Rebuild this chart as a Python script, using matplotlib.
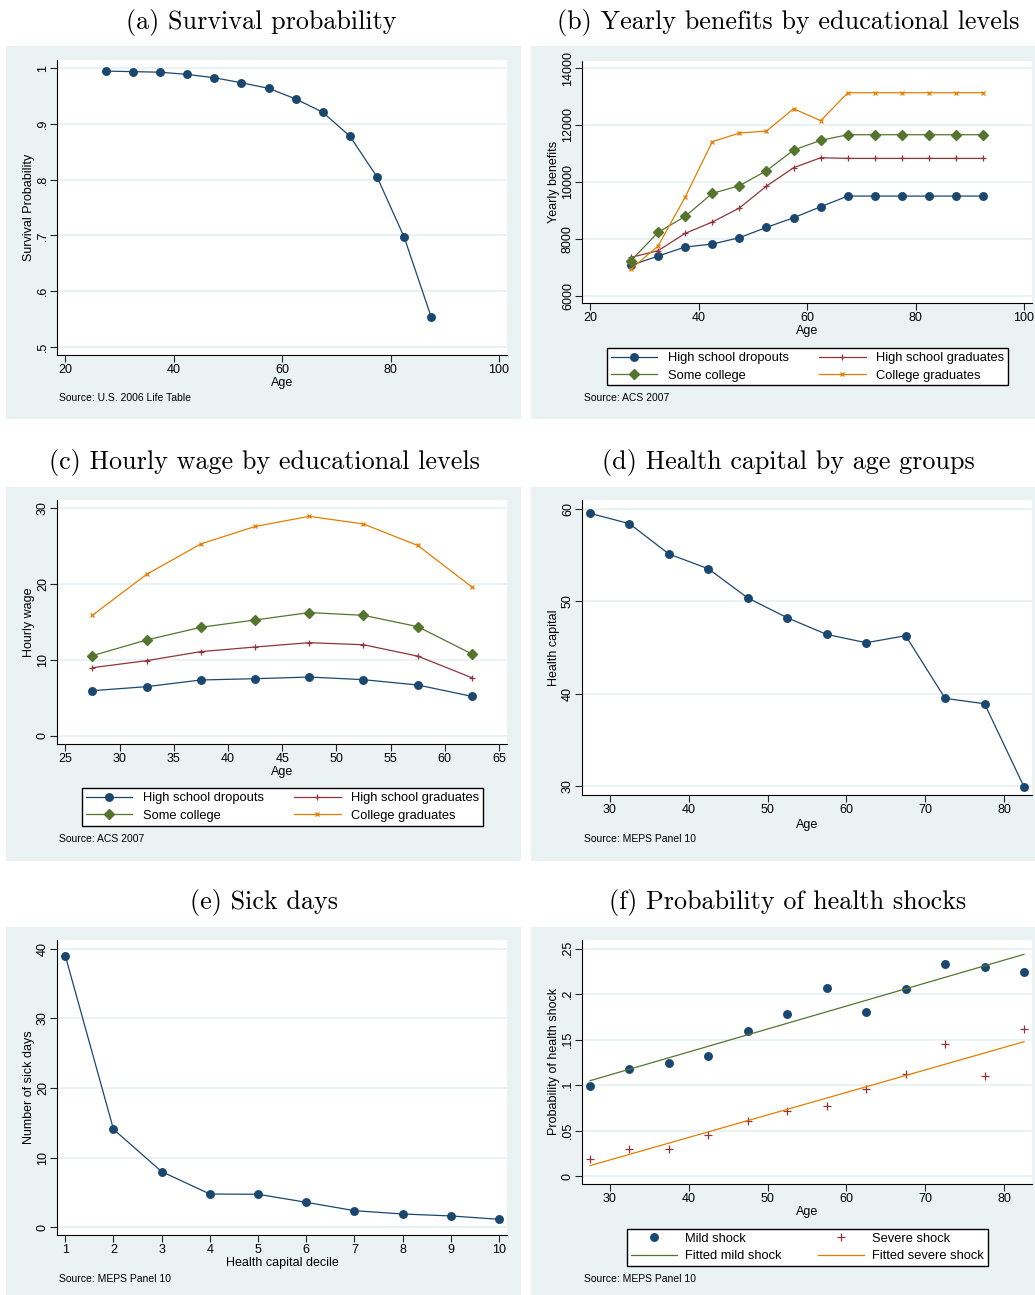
import matplotlib
matplotlib.use("Agg")
import matplotlib.pyplot as plt
from matplotlib.patches import Rectangle

plt.rcParams['font.family'] = ['Liberation Sans', 'DejaVu Sans']

# ---------------- data ----------------
ages_a = [27.5, 32.5, 37.5, 42.5, 47.5, 52.5, 57.5, 62.5, 67.5, 72.5, 77.5, 82.5, 87.5]
survival = [0.995, 0.994, 0.993, 0.989, 0.983, 0.974, 0.964, 0.945, 0.921, 0.878, 0.805, 0.697, 0.553]

ages_b = [27.5, 32.5, 37.5, 42.5, 47.5, 52.5, 57.5, 62.5, 67.5, 72.5, 77.5, 82.5, 87.5, 92.5]
ben_dropouts = [7066, 7393, 7710, 7815, 8037, 8400, 8740, 9127, 9500, 9500, 9500, 9500, 9500, 9500]
ben_hsgrad = [7347, 7580, 8190, 8588, 9080, 9852, 10496, 10848, 10824, 10824, 10824, 10824, 10824, 10824]
ben_somecol = [7230, 8225, 8787, 9595, 9864, 10391, 11117, 11457, 11656, 11656, 11656, 11656, 11656, 11656]
ben_colgrad = [6937, 7745, 9466, 11410, 11714, 11785, 12570, 12148, 13131, 13131, 13131, 13131, 13131, 13131]

ages_c = [27.5, 32.5, 37.5, 42.5, 47.5, 52.5, 57.5, 62.5]
wage_dropouts = [5.94, 6.47, 7.35, 7.52, 7.74, 7.39, 6.69, 5.19]
wage_hsgrad = [8.97, 9.90, 11.09, 11.70, 12.27, 12.00, 10.50, 7.65]
wage_somecol = [10.56, 12.63, 14.30, 15.27, 16.24, 15.88, 14.39, 10.78]
wage_colgrad = [15.88, 21.29, 25.30, 27.60, 28.94, 27.93, 25.10, 19.62]

ages_d = [27.5, 32.5, 37.5, 42.5, 47.5, 52.5, 57.5, 62.5, 67.5, 72.5, 77.5, 82.5]
health_capital = [59.5, 58.38, 55.1, 53.5, 50.34, 48.2, 46.4, 45.5, 46.26, 39.48, 38.9, 29.9]

deciles = [1, 2, 3, 4, 5, 6, 7, 8, 9, 10]
sick_days = [39.0, 14.07, 7.99, 4.78, 4.74, 3.59, 2.39, 1.91, 1.63, 1.15]

ages_f = [27.5, 32.5, 37.5, 42.5, 47.5, 52.5, 57.5, 62.5, 67.5, 72.5, 77.5, 82.5]
mild_shock = [0.0986, 0.118, 0.1239, 0.132, 0.1594, 0.1777, 0.207, 0.1803, 0.2053, 0.2335, 0.2298, 0.224]
severe_shock = [0.0183, 0.0293, 0.030, 0.0451, 0.0601, 0.0715, 0.0773, 0.0953, 0.1122, 0.1448, 0.1096, 0.1613]
fit_ages = [27.5, 82.5]
fit_mild = [0.1048, 0.2438]
fit_severe = [0.0114, 0.1477]

titles = ["(a) Survival probability", "(b) Yearly benefits by educational levels",
          "(c) Hourly wage by educational levels", "(d) Health capital by age groups",
          "(e) Sick days", "(f) Probability of health shocks"]
edu_labels = ["High school dropouts", "High school graduates", "Some college", "College graduates"]

# ---------------- style ----------------
NAVY = '#1A476F'
MAROON = '#90353B'
GREEN = '#55752F'
ORANGE = '#E37E00'
BG = '#EAF2F3'

W, H = 1035, 1295
fig = plt.figure(figsize=(W / 100, H / 100), dpi=100)
fig.patch.set_facecolor('white')


def gray(x0, y0, x1, y1):
    fig.patches.append(Rectangle((x0 / W, 1 - y1 / H), (x1 - x0) / W, (y1 - y0) / H,
                                 transform=fig.transFigure, facecolor=BG,
                                 edgecolor='none', zorder=-5))


def make_ax(L, T, R, B, xref, yref):
    ax = fig.add_axes([L / W, 1 - B / H, (R - L) / W, (B - T) / H])
    (v1, p1), (v2, p2) = xref
    s = (p2 - p1) / (v2 - v1)
    ax.set_xlim(v1 - (p1 - L) / s, v1 + (R - p1) / s)
    (w1, q1), (w2, q2) = yref
    f = lambda p: w1 + (q1 - p) * (w2 - w1) / (q1 - q2)
    ax.set_ylim(f(B), f(T))
    ax.set_facecolor('white')
    for sp in ['top', 'right']:
        ax.spines[sp].set_visible(False)
    for sp in ['left', 'bottom']:
        ax.spines[sp].set_color('black')
        ax.spines[sp].set_linewidth(0.8)
    ax.tick_params(direction='out', length=5, width=0.8, color='#222222',
                   labelsize=9, labelcolor='black')
    ax.tick_params(axis='x', pad=1.5)
    ax.tick_params(axis='y', pad=1.0)
    ax.grid(axis='y', color=BG, linewidth=1.4)
    ax.set_axisbelow(True)
    return ax


def yticks(ax, vals, labels):
    ax.set_yticks(vals)
    ax.set_yticklabels(labels, rotation=90, va='center', ha='right')


def title(x, y, s):
    fig.text(x / W, 1 - y / H, s, family='cmr10', fontsize=18.8,
             ha='center', va='center')


def source(x, y, s):
    fig.text(x / W, 1 - y / H, s, fontsize=7.5, ha='left', va='center')


def legend(handles, labels, x0, y0, x1, y1, tpad):
    leg = fig.legend(handles, labels, ncol=2, loc='center', mode='expand',
                     bbox_to_anchor=(x0 / W, 1 - y1 / H, (x1 - x0) / W, (y1 - y0) / H),
                     fontsize=9.3, frameon=True, fancybox=False, edgecolor='black',
                     facecolor='white', framealpha=1,
                     borderpad=0.3, labelspacing=0.42, handlelength=3.6,
                     handletextpad=tpad, columnspacing=1.0, borderaxespad=0)
    leg.get_frame().set_linewidth(1.0)
    return leg


LW = 0.9
YLP = 1.5
order = [0, 2, 1, 3]

# gray panels
gray(6, 46, 521, 419)
gray(531, 46, 1035, 419)
gray(6, 487, 521, 861)
gray(531, 487, 1035, 861)
gray(6, 927, 521, 1295)
gray(531, 927, 1035, 1295)

# ---------------- (a) ----------------
ax = make_ax(57.3, 60, 507.3, 355, [(20, 65.3), (100, 499)], [(1, 68.3), (0.5, 346.7)])
ax.plot(ages_a, survival, color=NAVY, lw=LW, marker='o', ms=5.4)
ax.set_xticks([20, 40, 60, 80, 100])
yticks(ax, [0.5, 0.6, 0.7, 0.8, 0.9, 1.0], ['.5', '.6', '.7', '.8', '.9', '1'])
ax.set_xlabel('Age', fontsize=9, labelpad=1)
ax.set_ylabel('Survival Probability', fontsize=9, labelpad=YLP)
title(261, 22, titles[0])
source(59, 398, 'Source: U.S. 2006 Life Table')

# ---------------- (b) ----------------
ax = make_ax(582.3, 60.7, 1032, 303, [(20, 590.3), (100, 1024)], [(14000, 68), (6000, 295.7)])
ax.plot(ages_b, ben_dropouts, color=NAVY, lw=LW, marker='o', ms=5.4, label=edu_labels[0])
ax.plot(ages_b, ben_hsgrad, color=MAROON, lw=LW, marker='+', ms=5, mew=0.9, label=edu_labels[1])
ax.plot(ages_b, ben_somecol, color=GREEN, lw=LW, marker='D', ms=5.5, label=edu_labels[2])
ax.plot(ages_b, ben_colgrad, color=ORANGE, lw=LW, marker='x', ms=3.5, mew=0.9, label=edu_labels[3])
ax.set_xticks([20, 40, 60, 80, 100])
yticks(ax, [6000, 8000, 10000, 12000, 14000], ['6000', '8000', '10000', '12000', '14000'])
ax.set_xlabel('Age', fontsize=9, labelpad=1)
ax.set_ylabel('Yearly benefits', fontsize=9, labelpad=YLP)
title(788, 22, titles[1])
source(584, 398, 'Source: ACS 2007')
h, l = ax.get_legend_handles_labels()
legend([h[i] for i in order], [l[i] for i in order], 607, 345.7, 1008, 388, 0.8)

# ---------------- (c) ----------------
ax = make_ax(57.3, 500, 507.3, 743.7, [(25, 65.3), (65, 499)], [(30, 508.3), (0, 735.7)])
ax.plot(ages_c, wage_dropouts, color=NAVY, lw=LW, marker='o', ms=5.4, label=edu_labels[0])
ax.plot(ages_c, wage_hsgrad, color=MAROON, lw=LW, marker='+', ms=5, mew=0.9, label=edu_labels[1])
ax.plot(ages_c, wage_somecol, color=GREEN, lw=LW, marker='D', ms=5.5, label=edu_labels[2])
ax.plot(ages_c, wage_colgrad, color=ORANGE, lw=LW, marker='x', ms=3.5, mew=0.9, label=edu_labels[3])
ax.set_xticks([25, 30, 35, 40, 45, 50, 55, 60, 65])
yticks(ax, [0, 10, 20, 30], ['0', '10', '20', '30'])
ax.set_xlabel('Age', fontsize=9, labelpad=1)
ax.set_ylabel('Hourly wage', fontsize=9, labelpad=YLP)
title(264, 462, titles[2])
source(59, 839, 'Source: ACS 2007')
h, l = ax.get_legend_handles_labels()
legend([h[i] for i in order], [l[i] for i in order], 82, 786, 483, 828, 0.8)

# ---------------- (d) ----------------
ax = make_ax(582.3, 500, 1031.7, 795, [(30, 609.7), (80, 1004.3)], [(60, 508.7), (30, 786)])
ax.plot(ages_d, health_capital, color=NAVY, lw=LW, marker='o', ms=5.4)
ax.set_xticks([30, 40, 50, 60, 70, 80])
yticks(ax, [30, 40, 50, 60], ['30', '40', '50', '60'])
ax.set_xlabel('Age', fontsize=9, labelpad=2)
ax.set_ylabel('Health capital', fontsize=9, labelpad=YLP)
title(788, 462, titles[3])
source(584, 839, 'Source: MEPS Panel 10')

# ---------------- (e) ----------------
ax = make_ax(57.3, 940, 507.3, 1235, [(1, 65.3), (10, 499)], [(40, 948.7), (0, 1227.3)])
ax.plot(deciles, sick_days, color=NAVY, lw=LW, marker='o', ms=5.4)
ax.set_xticks(deciles)
yticks(ax, [0, 10, 20, 30, 40], ['0', '10', '20', '30', '40'])
ax.set_xlabel('Health capital decile', fontsize=9, labelpad=1)
ax.set_ylabel('Number of sick days', fontsize=9, labelpad=YLP)
title(264, 902, titles[4])
source(59, 1279, 'Source: MEPS Panel 10')

# ---------------- (f) ----------------
ax = make_ax(582.3, 940, 1031.7, 1183.7, [(30, 609.7), (80, 1004.3)], [(0.25, 948.7), (0, 1176)])
ax.plot(ages_f, mild_shock, ls='none', color=NAVY, marker='o', ms=5.4, label='Mild shock')
ax.plot(ages_f, severe_shock, ls='none', color=MAROON, marker='+', ms=6, mew=0.9, label='Severe shock')
ax.plot(fit_ages, fit_mild, color=GREEN, lw=LW, label='Fitted mild shock')
ax.plot(fit_ages, fit_severe, color=ORANGE, lw=LW, label='Fitted severe shock')
ax.set_xticks([30, 40, 50, 60, 70, 80])
yticks(ax, [0, 0.05, 0.1, 0.15, 0.2, 0.25], ['0', '.05', '.1', '.15', '.2', '.25'])
ax.set_xlabel('Age', fontsize=9, labelpad=1)
ax.set_ylabel('Probability of health shock', fontsize=9, labelpad=YLP)
title(788, 902, titles[5])
source(584, 1279, 'Source: MEPS Panel 10')
h, l = ax.get_legend_handles_labels()
legend([h[i] for i in order], [l[i] for i in order], 626.7, 1226.7, 987.7, 1268.3, 0.6)

fig.savefig('out.png', dpi=100, facecolor='white')
